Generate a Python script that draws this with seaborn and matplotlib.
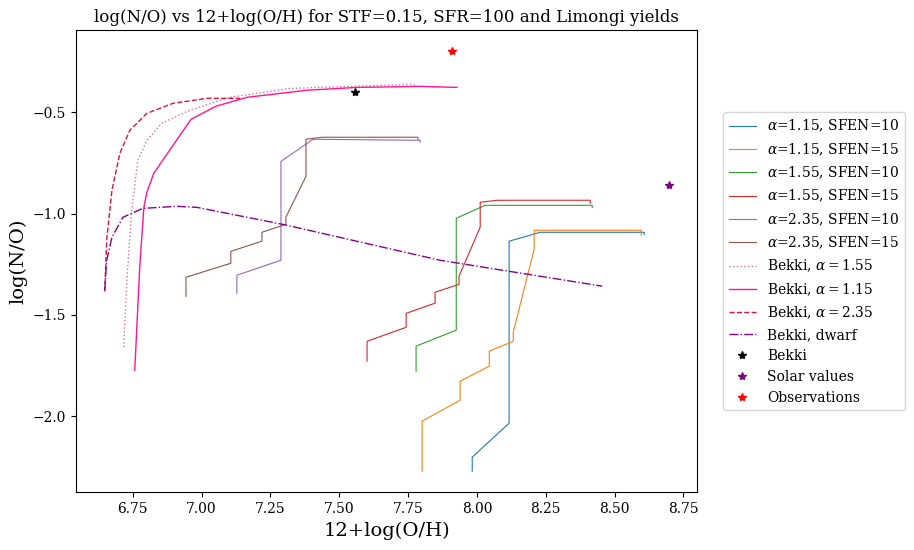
import matplotlib
matplotlib.use("Agg")
import matplotlib.pyplot as plt
import seaborn as sns
import pandas as pd

plt.rcParams['font.family'] = ['DejaVu Serif']
plt.rcParams['mathtext.fontset'] = 'dejavuserif'

# model tracks: 12+log(O/H), log(N/O)
a115_10_x = [7.983, 7.983, 8.117, 8.117, 8.230, 8.608, 8.608]
a115_10_y = [-2.271, -2.202, -2.034, -1.136, -1.092, -1.092, -1.102]
a115_15_x = [7.801, 7.801, 7.939, 7.939, 8.045, 8.045, 8.132, 8.132, 8.208, 8.208, 8.208, 8.597, 8.597]
a115_15_y = [-2.271, -2.024, -1.921, -1.827, -1.753, -1.679, -1.630, -1.585, -1.176, -1.087, -1.082, -1.082, -1.107]
a155_10_x = [7.779, 7.779, 7.925, 7.925, 8.030, 8.419, 8.419]
a155_10_y = [-1.778, -1.654, -1.575, -1.023, -0.959, -0.959, -0.969]
a155_15_x = [7.601, 7.601, 7.743, 7.743, 7.848, 7.848, 7.935, 7.935, 8.012, 8.012, 8.074, 8.412, 8.412]
a155_15_y = [-1.728, -1.630, -1.561, -1.492, -1.442, -1.388, -1.349, -1.309, -1.067, -0.944, -0.934, -0.934, -0.949]
a235_10_x = [7.128, 7.128, 7.288, 7.288, 7.405, 7.794, 7.794]
a235_10_y = [-1.393, -1.304, -1.230, -0.742, -0.633, -0.638, -0.648]
a235_15_x = [6.943, 6.943, 7.106, 7.106, 7.219, 7.219, 7.306, 7.306, 7.379, 7.379, 7.437, 7.786, 7.786]
a235_15_y = [-1.408, -1.314, -1.245, -1.186, -1.136, -1.092, -1.053, -1.018, -0.816, -0.633, -0.623, -0.623, -0.633]

bekki155_x = [6.717, 6.728, 6.746, 6.768, 6.801, 6.855, 6.957, 7.103, 7.321, 7.757, 7.775]
bekki155_y = [-1.659, -1.329, -0.983, -0.737, -0.638, -0.554, -0.490, -0.426, -0.382, -0.362, -0.367]
bekki115_x = [6.757, 6.775, 6.790, 6.801, 6.826, 6.961, 7.052, 7.165, 7.383, 7.565, 7.794, 7.928]
bekki115_y = [-1.773, -1.265, -0.969, -0.895, -0.801, -0.535, -0.470, -0.426, -0.391, -0.377, -0.372, -0.377]
bekki235_x = [6.648, 6.655, 6.674, 6.703, 6.739, 6.801, 6.895, 7.019, 7.139]
bekki235_y = [-1.385, -1.131, -0.885, -0.702, -0.589, -0.505, -0.456, -0.431, -0.431]
dwarf_x = [6.648, 6.655, 6.674, 6.714, 6.786, 6.910, 6.983, 7.295, 7.866, 8.455]
dwarf_y = [-1.378, -1.230, -1.117, -1.018, -0.974, -0.964, -0.969, -1.053, -1.230, -1.358]

bekki_pt = (7.557, -0.401)
solar_pt = (8.699, -0.860)
obs_pt = (7.910, -0.199)

fig = plt.figure(figsize=(9.14, 5.5), dpi=100)
ax = fig.add_axes([0.083, 0.105, 0.680, 0.840])

tracks = [
    (a115_10_x, a115_10_y, r'$\alpha$=1.15, SFEN=10', 'C0', '-', 0.8),
    (a115_15_x, a115_15_y, r'$\alpha$=1.15, SFEN=15', 'C1', '-', 0.8),
    (a155_10_x, a155_10_y, r'$\alpha$=1.55, SFEN=10', 'C2', '-', 0.8),
    (a155_15_x, a155_15_y, r'$\alpha$=1.55, SFEN=15', 'C3', '-', 0.8),
    (a235_10_x, a235_10_y, r'$\alpha$=2.35, SFEN=10', 'C4', '-', 0.8),
    (a235_15_x, a235_15_y, r'$\alpha$=2.35, SFEN=15', 'C5', '-', 0.8),
    (bekki155_x, bekki155_y, r'Bekki, $\alpha=1.55$', 'palevioletred', ':', 1.0),
    (bekki115_x, bekki115_y, r'Bekki, $\alpha=1.15$', 'deeppink', '-', 1.0),
    (bekki235_x, bekki235_y, r'Bekki, $\alpha=2.35$', 'crimson', '--', 1.0),
    (dwarf_x, dwarf_y, 'Bekki, dwarf', 'darkmagenta', '-.', 1.0),
]
for x, y, lab, col, ls, lw in tracks:
    sns.lineplot(x=x, y=y, sort=False, estimator=None, ax=ax, label=lab,
                 color=col, linestyle=ls, linewidth=lw)

for pt, lab, col in [(bekki_pt, 'Bekki', 'black'), (solar_pt, 'Solar values', 'purple'),
                     (obs_pt, 'Observations', 'red')]:
    ax.plot([pt[0]], [pt[1]], marker='*', linestyle='none', color=col, label=lab)

ax.set_xlim(6.543, 8.801)
ax.set_ylim(-2.375, -0.095)
ax.set_xticks([6.75, 7.0, 7.25, 7.5, 7.75, 8.0, 8.25, 8.5, 8.75])
ax.set_xlabel('12+log(O/H)', fontsize=14)
ax.set_ylabel('log(N/O)', fontsize=14)
ax.set_title('log(N/O) vs 12+log(O/H) for STF=0.15, SFR=100 and Limongi yields', fontsize=12)
ax.legend(loc='center left', bbox_to_anchor=(1.03, 0.5), fontsize=10)

fig.savefig('out.png', dpi=100)
